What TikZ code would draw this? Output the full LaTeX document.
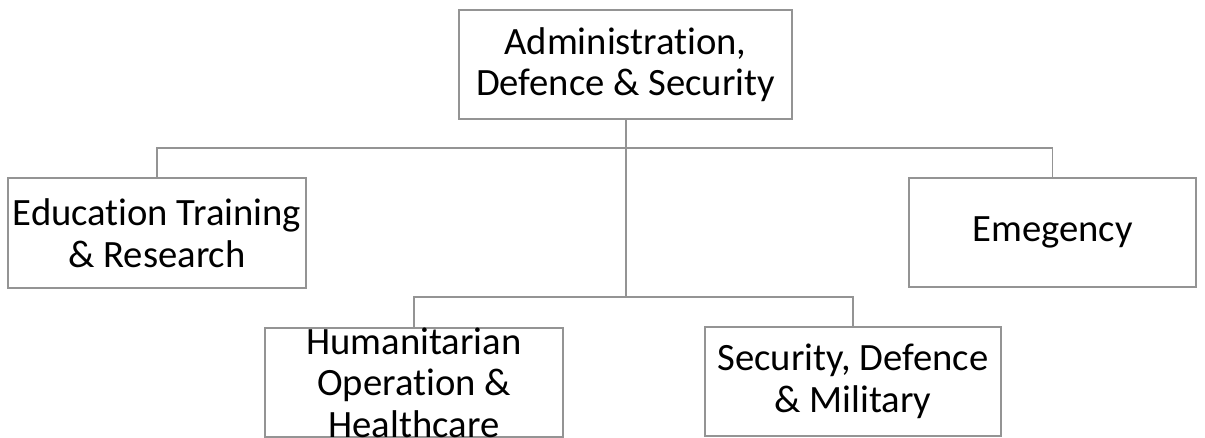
\documentclass[tikz,border=0pt]{standalone}
\usepackage{fontspec}
\setmainfont{Carlito}[Ligatures=NoCommon]
\tikzset{
    unit/.style={draw=black!42, line width=1.1pt, align=center, inner sep=0pt,
        minimum height=2.18cm, font=\fontsize{22}{23.6}\selectfont},
    link/.style={draw=black!42, line width=1.1pt}
}
\begin{document}
\begin{tikzpicture}

    \useasboundingbox (0,0) rectangle (24.1,8.74);

    % boxes
    \node [unit, minimum width=6.66cm] (admin) at (12.51,7.45) {Administration,\\Defence \& Security};
    \node [unit, minimum width=5.96cm, minimum height=2.2cm] (edu) at (3.14,4.08) {Education Training\\\& Research};
    \node [unit, minimum width=5.74cm] (emg) at (21.05,4.09) {Emegency};
    \node [unit, minimum width=5.96cm, minimum height=2.14cm] (hum) at (8.28,1.09) {Humanitarian\\Operation \&\\Healthcare};
    \node [unit, minimum width=5.92cm] (sec) at (17.06,1.11) {Security, Defence\\\& Military};

    % bars
    \coordinate (top) at (12.52,5.78);
    \coordinate (low) at (12.52,2.8);

    % links
    %% trunk
    \draw [link] (admin.south -| top) -- (low);
    %% upper row
    \draw [link] (edu.north) -- (edu.north |- top) -- (emg.north |- top) -- (emg.north);
    %% lower row
    \draw [link] (hum.north) -- (hum.north |- low) -- (sec.north |- low) -- (sec.north);

\end{tikzpicture}
\end{document}
